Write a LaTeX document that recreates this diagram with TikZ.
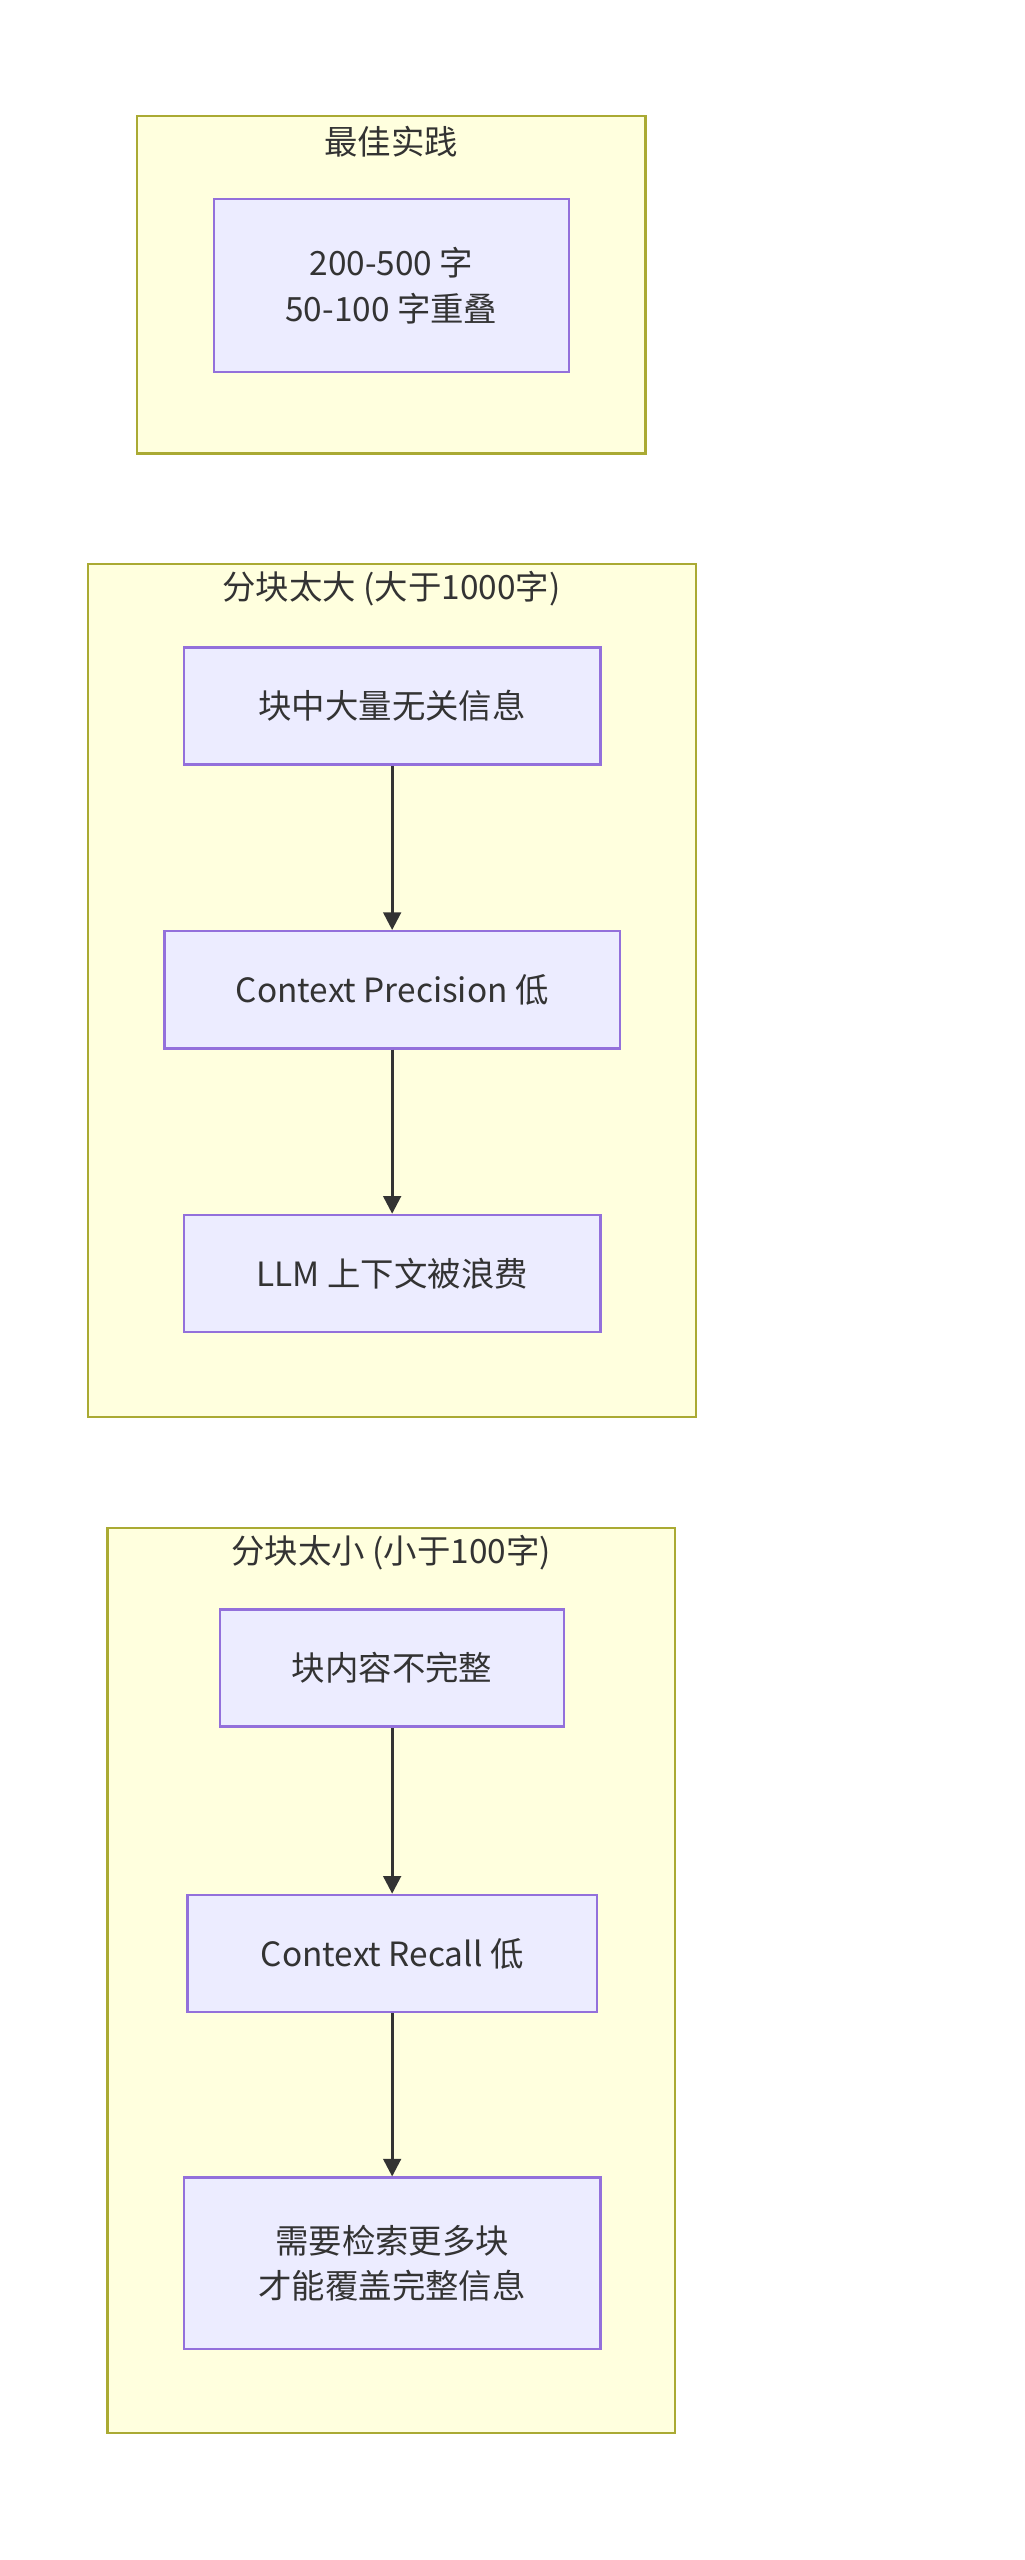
\documentclass[tikz,border=0pt]{standalone}
\usepackage{fontspec}
\setmainfont{Noto Sans CJK SC}
\usetikzlibrary{arrows.meta,positioning,calc}
\definecolor{clusterfill}{HTML}{FFFFDE}
\definecolor{clusterline}{HTML}{AAAA33}
\definecolor{boxfill}{HTML}{ECECFF}
\definecolor{boxline}{HTML}{9370DB}
\definecolor{edgecol}{HTML}{333333}
\tikzset{
  cluster/.style={draw=clusterline,fill=clusterfill,line width=0.7pt},
  ctitle/.style={font=\fontsize{9.5}{12}\selectfont,text=edgecol},
  chunkbox/.style={draw=boxline,fill=boxfill,line width=0.7pt,align=center,
    font=\fontsize{9.5}{13}\selectfont,text=edgecol,minimum height=1.17cm},
  flow/.style={draw=edgecol,line width=0.8pt,-{Triangle[length=5pt,width=5pt]}}
}
\begin{document}
\begin{tikzpicture}[x=0.0163cm,y=-0.0163cm]
\useasboundingbox (0,0) rectangle (628,1570);
%% best practice
\draw[cluster] (84,71) rectangle (396,278);
\node[ctitle] (T1) at (240,87) {最佳实践};
\node[chunkbox,minimum width=3.55cm,minimum height=1.73cm] (Good) at (240,175) {200-500 字\\50-100 字重叠};
%% too large
\draw[cluster] (54,346) rectangle (427,869);
\node[ctitle] (T2) at (240,361) {分块太大 (大于1000字)};
\node[chunkbox,minimum width=4.16cm] (Noise) at (240.5,433) {块中大量无关信息};
\node[chunkbox,minimum width=4.55cm] (Prec) at (240.5,607) {Context Precision 低};
\node[chunkbox,minimum width=4.16cm] (Waste) at (240.5,781) {LLM 上下文被浪费};
\draw[flow] (Noise) -- (Prec);
\draw[flow] (Prec) -- (Waste);
%% too small
\draw[cluster] (66,937) rectangle (414,1492);
\node[ctitle] (T3) at (240,952) {分块太小 (小于100字)};
\node[chunkbox,minimum width=3.44cm] (Partial) at (240.5,1023) {块内容不完整};
\node[chunkbox,minimum width=4.09cm] (Recall) at (240.5,1198) {Context Recall 低};
\node[chunkbox,minimum width=4.16cm,minimum height=1.71cm] (More) at (240.5,1388) {需要检索更多块\\才能覆盖完整信息};
\draw[flow] (Partial) -- (Recall);
\draw[flow] (Recall) -- (More);
\end{tikzpicture}
\end{document}
